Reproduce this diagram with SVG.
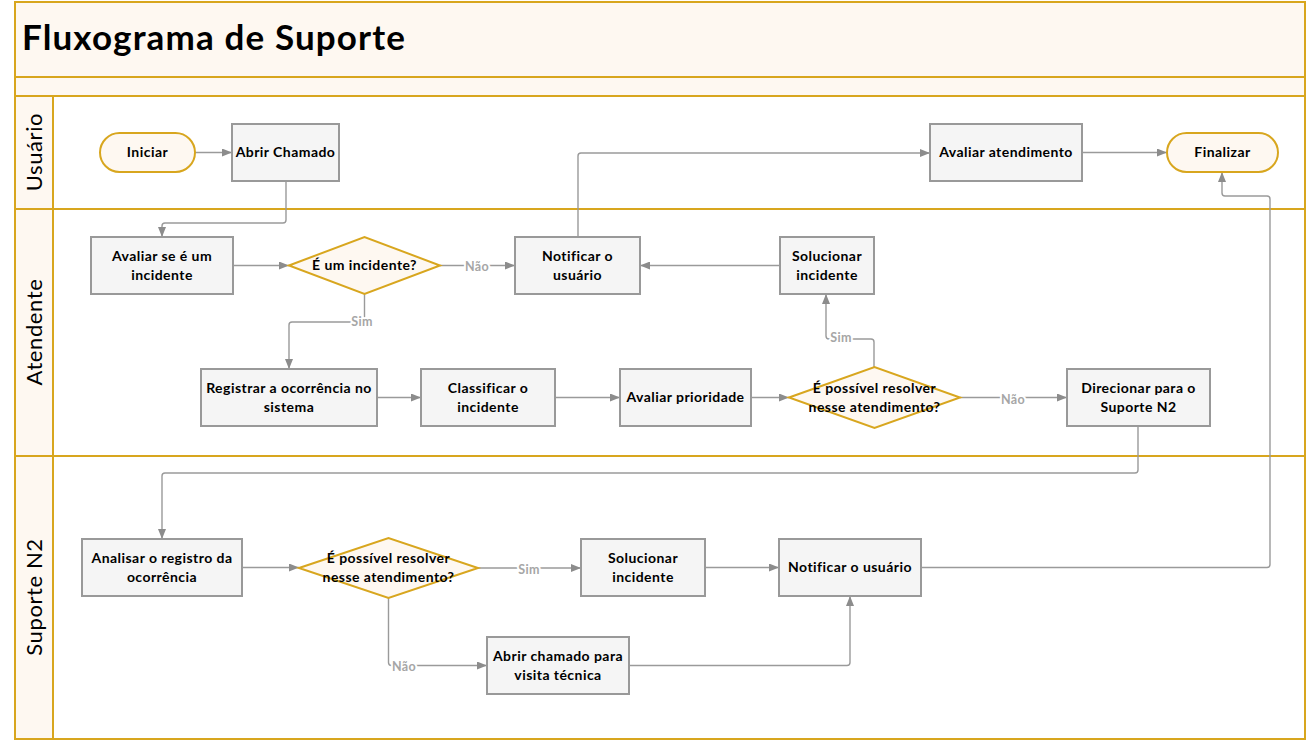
<svg xmlns="http://www.w3.org/2000/svg" width="1308" height="741" viewBox="0 0 1308 741">
<defs>
<marker id="ah" viewBox="0 0 10 8" refX="10" refY="4" markerWidth="10" markerHeight="8" markerUnits="userSpaceOnUse" orient="auto"><path d="M0,0 L10,4 L0,8 z" fill="#8c8c8c"/></marker>
<style>
.band{fill:#fef8f1;stroke:#d8a61e;stroke-width:2}
.lane{fill:#ffffff;stroke:#d8a61e;stroke-width:2}
.box{fill:#f5f5f5;stroke:#999999;stroke-width:2}
.term{fill:#fef8f1;stroke:#d8a61e;stroke-width:2}
.dia{fill:#fef8f1;stroke:#d8a61e;stroke-width:2}
.t{font-family:Lato,"Liberation Sans",sans-serif;font-weight:bold;font-size:14px;letter-spacing:0.45px;fill:#000;text-anchor:middle}
.lh{font-family:Lato,"Liberation Sans",sans-serif;font-size:22px;letter-spacing:0.6px;fill:#000;text-anchor:middle}
.title{font-family:Lato,"Liberation Sans",sans-serif;font-weight:bold;font-size:35px;fill:#000}
.c{fill:none;stroke:#9a9a9a;stroke-width:1.4}
.lbl{font-family:Lato,"Liberation Sans",sans-serif;font-weight:bold;font-size:12.5px;letter-spacing:0.3px;fill:#a6a6a6;text-anchor:middle;stroke:#fff;stroke-width:4;paint-order:stroke}
</style>
</defs>
<rect x="0" y="0" width="1308" height="741" fill="#fff"/>
<g id="frame">
<rect class="band" x="15" y="2" width="1290" height="75"/>
<rect class="band" x="15" y="77" width="1290" height="19"/>
<rect class="lane" x="15" y="96" width="1290" height="113"/>
<rect class="lane" x="15" y="209" width="1290" height="247"/>
<rect class="lane" x="15" y="456" width="1290" height="283"/>
<rect class="band" x="15" y="96" width="38" height="113"/>
<rect class="band" x="15" y="209" width="38" height="247"/>
<rect class="band" x="15" y="456" width="38" height="283"/>
<text class="title" x="22" y="50" textLength="383" lengthAdjust="spacing">Fluxograma de Suporte</text>
<text class="lh" transform="translate(42,152) rotate(-90)">Usuário</text>
<text class="lh" transform="translate(42,332) rotate(-90)">Atendente</text>
<text class="lh" transform="translate(42,597) rotate(-90)">Suporte N2</text>
</g>
<g id="connectors">
<path class="c" d="M195,152.5 H232" marker-end="url(#ah)"/>
<path class="c" d="M286,181 V220 Q286,223 283,223 H165 Q162,223 162,226 V237" marker-end="url(#ah)"/>
<path class="c" d="M233,265.5 H289" marker-end="url(#ah)"/>
<path class="c" d="M440,265.5 H515" marker-end="url(#ah)"/>
<path class="c" d="M364.5,294 V319 Q364.5,322 361.5,322 H292 Q289,322 289,325 V369" marker-end="url(#ah)"/>
<path class="c" d="M377,397.5 H421" marker-end="url(#ah)"/>
<path class="c" d="M555,397.5 H620" marker-end="url(#ah)"/>
<path class="c" d="M751,397.5 H789" marker-end="url(#ah)"/>
<path class="c" d="M874,367 V342 Q874,339 871,339 H829 Q826,339 826,336 V294" marker-end="url(#ah)"/>
<path class="c" d="M960,397.5 H1067" marker-end="url(#ah)"/>
<path class="c" d="M780,265.5 H640" marker-end="url(#ah)"/>
<path class="c" d="M578,237 V156 Q578,153 581,153 H930" marker-end="url(#ah)"/>
<path class="c" d="M1082,152.5 H1167" marker-end="url(#ah)"/>
<path class="c" d="M1138,426 V470 Q1138,473 1135,473 H165 Q162,473 162,476 V539" marker-end="url(#ah)"/>
<path class="c" d="M242,567.5 H299" marker-end="url(#ah)"/>
<path class="c" d="M478,568 H581" marker-end="url(#ah)"/>
<path class="c" d="M388.5,598 V662.5 Q388.5,665.5 391.5,665.5 H487" marker-end="url(#ah)"/>
<path class="c" d="M705,567.5 H779" marker-end="url(#ah)"/>
<path class="c" d="M629,665.5 H847 Q850,665.5 850,662.5 V596" marker-end="url(#ah)"/>
<path class="c" d="M921,567.5 H1267 Q1270,567.5 1270,564.5 V199 Q1270,196 1267,196 H1225 Q1222,196 1222,193 V172" marker-end="url(#ah)"/>
<text class="lbl" x="477" y="271">Não</text>
<text class="lbl" x="362" y="326">Sim</text>
<text class="lbl" x="841" y="342">Sim</text>
<text class="lbl" x="1013" y="404">Não</text>
<text class="lbl" x="529" y="574">Sim</text>
<text class="lbl" x="404" y="671">Não</text>
</g>
<g id="n-iniciar"><rect class="term" x="100" y="133" width="95" height="39" rx="19.5"/><text class="t" x="147.5" y="157">Iniciar</text></g>
<g id="n-abrir"><rect class="box" x="232" y="124" width="107" height="57"/><text class="t" x="285.5" y="157">Abrir Chamado</text></g>
<g id="n-avaliar-incidente"><rect class="box" x="91" y="237" width="142" height="57"/><text class="t" x="162" y="261">Avaliar se é um</text><text class="t" x="162" y="280">incidente</text></g>
<g id="n-e-incidente"><polygon class="dia" points="289,265.5 364.5,237 440,265.5 364.5,294"/><text class="t" x="364.5" y="270">É um incidente?</text></g>
<g id="n-notificar1"><rect class="box" x="515" y="237" width="125" height="57"/><text class="t" x="577.5" y="261">Notificar o</text><text class="t" x="577.5" y="280">usuário</text></g>
<g id="n-solucionar1"><rect class="box" x="780" y="237" width="94" height="57"/><text class="t" x="827" y="261">Solucionar</text><text class="t" x="827" y="280">incidente</text></g>
<g id="n-registrar"><rect class="box" x="201" y="369" width="176" height="57"/><text class="t" x="289" y="393">Registrar a ocorrência no</text><text class="t" x="289" y="412">sistema</text></g>
<g id="n-classificar"><rect class="box" x="421" y="369" width="134" height="57"/><text class="t" x="488" y="393">Classificar o</text><text class="t" x="488" y="412">incidente</text></g>
<g id="n-prioridade"><rect class="box" x="620" y="369" width="131" height="57"/><text class="t" x="685.5" y="402">Avaliar prioridade</text></g>
<g id="n-possivel1"><polygon class="dia" points="789,397.5 874.5,367 960,397.5 874.5,428"/><text class="t" x="874.5" y="393">É possível resolver</text><text class="t" x="874.5" y="412">nesse atendimento?</text></g>
<g id="n-direcionar"><rect class="box" x="1067" y="369" width="143" height="57"/><text class="t" x="1138.5" y="393">Direcionar para o</text><text class="t" x="1138.5" y="412">Suporte N2</text></g>
<g id="n-avaliar-atendimento"><rect class="box" x="930" y="124" width="152" height="57"/><text class="t" x="1006" y="157">Avaliar atendimento</text></g>
<g id="n-finalizar"><rect class="term" x="1167" y="133" width="111" height="39" rx="19.5"/><text class="t" x="1222.5" y="157">Finalizar</text></g>
<g id="n-analisar"><rect class="box" x="82" y="539" width="160" height="57"/><text class="t" x="162" y="563">Analisar o registro da</text><text class="t" x="162" y="582">ocorrência</text></g>
<g id="n-possivel2"><polygon class="dia" points="299,568 388.5,538 478,568 388.5,598"/><text class="t" x="388.5" y="563">É possível resolver</text><text class="t" x="388.5" y="582">nesse atendimento?</text></g>
<g id="n-solucionar2"><rect class="box" x="581" y="539" width="124" height="57"/><text class="t" x="643" y="563">Solucionar</text><text class="t" x="643" y="582">incidente</text></g>
<g id="n-notificar2"><rect class="box" x="779" y="539" width="142" height="57"/><text class="t" x="850" y="572">Notificar o usuário</text></g>
<g id="n-visita"><rect class="box" x="487" y="637" width="142" height="57"/><text class="t" x="558" y="661">Abrir chamado para</text><text class="t" x="558" y="680">visita técnica</text></g>
</svg>
